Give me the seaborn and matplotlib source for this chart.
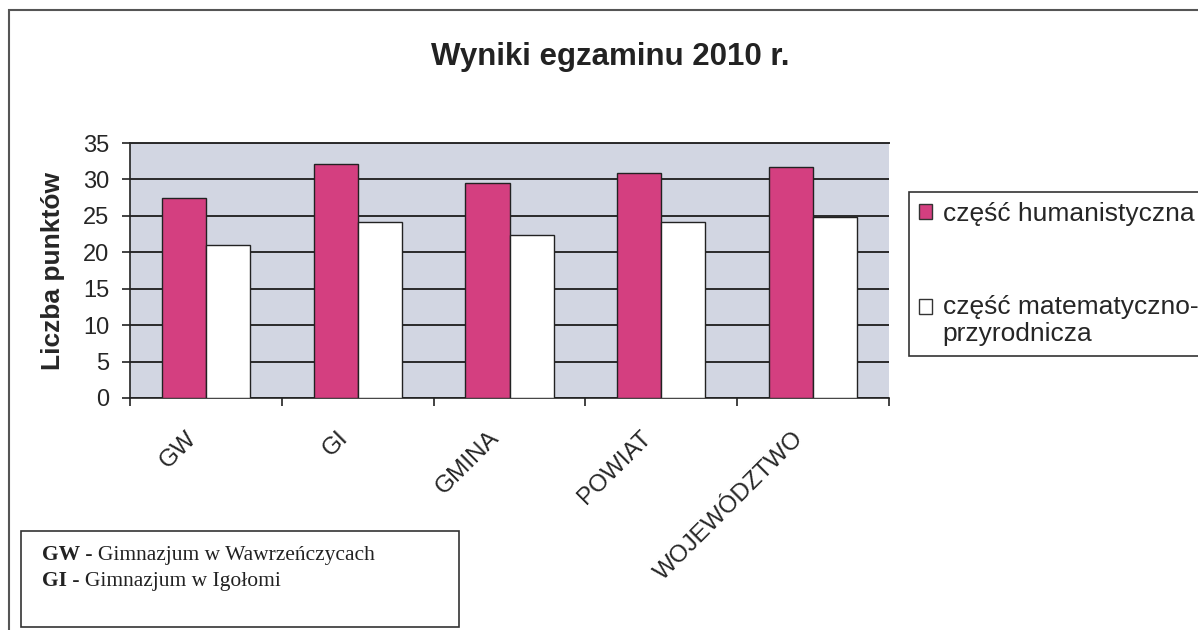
import numpy as np
import pandas as pd
import seaborn as sns
import matplotlib.pyplot as plt
from matplotlib.patches import Rectangle, Patch
from matplotlib.transforms import ScaledTranslation

# data
categories = ["GW", "GI", "GMINA", "POWIAT", "WOJEWÓDZTWO"]
series = ["część humanistyczna", "część matematyczno-\nprzyrodnicza"]
humanistyczna = [27.5, 32.1, 29.5, 30.9, 31.7]
matematyczna = [21.0, 24.2, 22.4, 24.2, 24.9]
y_ticks = [0, 5, 10, 15, 20, 25, 30, 35]

df = pd.DataFrame({
    "kategoria": categories * 2,
    "czesc": [series[0]] * len(categories) + [series[1]] * len(categories),
    "punkty": humanistyczna + matematyczna,
})

pink = "#D43F80"
sns.set_theme(style="white")
plt.rcParams["font.family"] = ["Liberation Sans", "DejaVu Sans"]
serif = ["Liberation Serif", "DejaVu Serif"]

W, H = 1198, 630
fig = plt.figure(figsize=(W / 100, H / 100), dpi=100)
ax = fig.add_axes([130 / W, 1 - 398 / H, 759 / W, 255 / H])
ax.set_facecolor("#D2D6E2")

sns.barplot(data=df, x="kategoria", y="punkty", hue="czesc",
            palette=[pink, "white"], saturation=1, width=0.58,
            edgecolor="#222222", linewidth=1, legend=False, ax=ax, zorder=3)

ax.set_xlim(-0.5, len(categories) - 0.5)
ax.set_ylim(0, 35)
ax.set_yticks(y_ticks)
ax.set_axisbelow(True)
ax.yaxis.grid(True, color="#2a2a2a", lw=1.4)
ax.xaxis.grid(False)

for s in ["left", "bottom"]:
    ax.spines[s].set_color("#222222")
    ax.spines[s].set_linewidth(1.2)
ax.spines["top"].set_color("#2a2a2a")
ax.spines["top"].set_linewidth(1.4)
ax.spines["right"].set_visible(False)

# excel style ticks between categories
ax.set_xticks(np.arange(-0.5, len(categories), 1), minor=True)
ax.tick_params(axis="x", which="major", bottom=True, length=0, labelsize=17.5, pad=21)
ax.tick_params(axis="x", which="minor", bottom=True, length=6, width=1.2,
               color="#222222", direction="out")
ax.tick_params(axis="y", left=True, length=6, width=1.2, color="#222222",
               direction="out", labelsize=17, pad=9)
shift = ScaledTranslation(-0.21, 0, fig.dpi_scale_trans)
for lab in ax.get_xticklabels():
    lab.set_rotation(45)
    lab.set_ha("right")
    lab.set_rotation_mode("anchor")
    lab.set_transform(lab.get_transform() + shift)

ax.set_xlabel("")
ax.set_ylabel("Liczba punktów", fontsize=19, fontweight="bold")
ax.yaxis.set_label_coords(-0.101, 0.5)
ax.yaxis.label.set_va("center")

fig.text(0.509, 1 - 57 / H, "Wyniki egzaminu 2010 r.", ha="center", va="center",
         fontsize=22.5, fontweight="bold", color="#222222")

handles = [Patch(facecolor=pink, edgecolor="#333333", lw=1),
           Patch(facecolor="white", edgecolor="#333333", lw=1)]
leg = fig.legend(handles, series, loc="upper left",
                 bbox_to_anchor=(909 / W, 1 - 192 / H), fontsize=19,
                 frameon=True, fancybox=False, framealpha=1, edgecolor="#333333",
                 handlelength=0.5, handleheight=0.5, handletextpad=0.4,
                 labelspacing=2.6, borderpad=0.38, borderaxespad=0)
leg.get_frame().set_linewidth(1.2)
# put the second marker next to the first line of its label
h2 = leg.legend_handles[1]
h2.set_y(h2.get_y() + 10)

# box with the abbreviations
fig.add_artist(Rectangle((21 / W, 1 - 627 / H), (459 - 21) / W, (627 - 531) / H,
                         transform=fig.transFigure, fill=False, ec="#333333", lw=1.2))
for i, (abbr, name) in enumerate([("GW", " - Gimnazjum w Wawrzeńczycach"),
                                  ("GI", " - Gimnazjum w Igołomi")]):
    t = fig.text(42 / W, 1 - (560 + 26 * i) / H, abbr, family=serif, fontsize=15.5,
                 fontweight="bold", va="baseline", color="#222222")
    ax.annotate(name, xy=(1, 0), xycoords=t, va="bottom", ha="left",
                family=serif, fontsize=15.5, color="#222222", annotation_clip=False)

# outer frame
fig.add_artist(Rectangle((9 / W, -0.05), 1.1, 1 - 10 / H + 0.05,
                         transform=fig.transFigure, fill=False, ec="#555555", lw=1.5))

fig.savefig("out.png", dpi=100)
